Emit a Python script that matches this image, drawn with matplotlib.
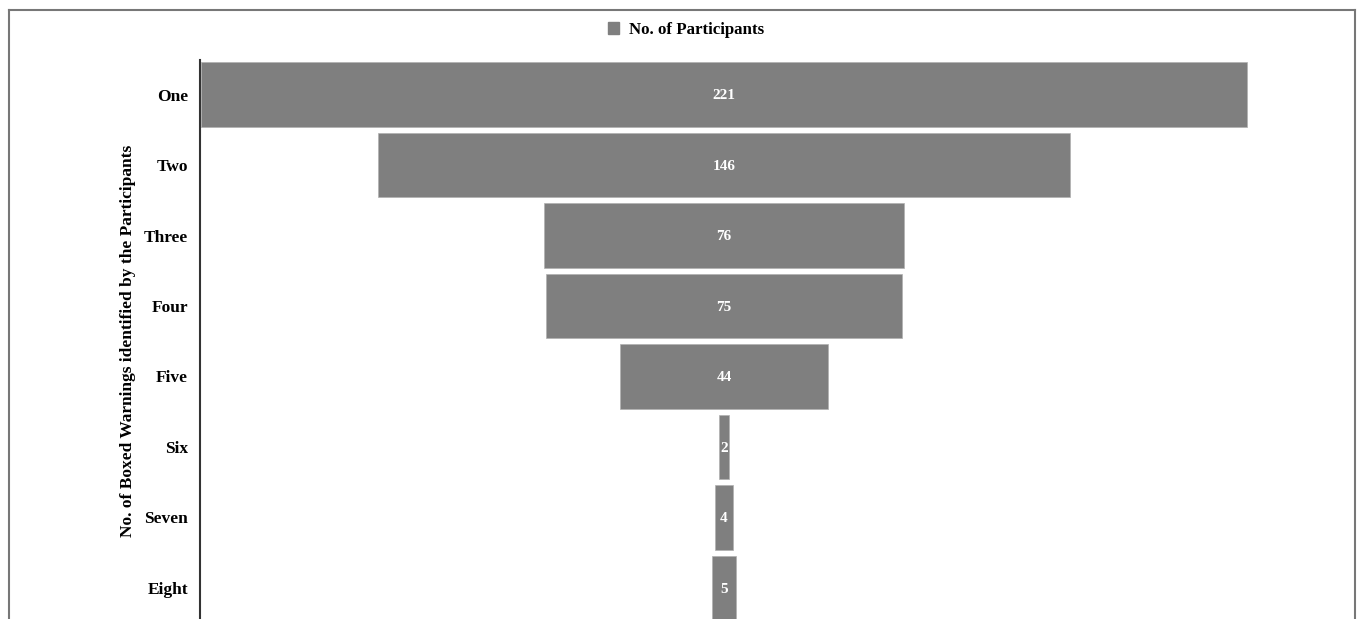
import matplotlib
matplotlib.use("Agg")
from matplotlib import pyplot as plt
from matplotlib.lines import Line2D
from matplotlib.patches import Patch

categories = ["One", "Two", "Three", "Four", "Five", "Six", "Seven", "Eight"]
participants = [221, 146, 76, 75, 44, 2, 4, 5]

W, H = 1357, 619
fig = plt.figure(figsize=(W / 100, H / 100), dpi=100)
plt.rcParams['font.family'] = ['Liberation Serif', 'DejaVu Serif']

# axes placed in pixel terms; bottom runs slightly past the figure edge (cropped look)
ax_l, ax_r, ax_t, ax_b = 200, 1248, 60, 622.5
ax = fig.add_axes([ax_l / W, 1 - ax_b / H, (ax_r - ax_l) / W, (ax_b - ax_t) / H])

ypos = list(range(len(categories)))
lefts = [-v / 2 for v in participants]
ax.barh(ypos, participants, left=lefts, height=0.92, color="#7f7f7f",
        edgecolor="#b0b0b0", linewidth=0.5, label="No. of Participants")
for y, v in zip(ypos, participants):
    ax.text(0, y + 0.02, str(v), ha="center", va="center", color="white",
            fontsize=11, fontweight="bold")

ax.set_xlim(-110.7, 110.7)
ax.set_ylim(len(categories) - 0.51, -0.49)
ax.set_yticks(ypos)
ax.set_yticklabels(categories, fontsize=12.5, fontweight="bold")
ax.tick_params(axis="y", length=0, pad=8.5)
ax.set_xticks([])
for s in ["top", "right", "bottom"]:
    ax.spines[s].set_visible(False)
ax.spines["left"].set_color("#333333")
ax.spines["left"].set_linewidth(1.5)

ax.set_ylabel("No. of Boxed Warnings identified by the Participants",
              fontsize=12.5, fontweight="bold", labelpad=6)

fig.legend(handles=[Patch(color="#7f7f7f", label="No. of Participants")],
           loc="center", bbox_to_anchor=(686 / W, 1 - 30 / H), frameon=False,
           prop={"size": 12.2, "weight": "bold"}, handlelength=0.65,
           handleheight=0.65, handletextpad=0.6)

# outer frame (bottom edge cropped)
fx0, fx1, fy0 = 8.5 / W, 1354.5 / W, 1 - 9.5 / H
frame_kw = dict(color="#777777", linewidth=1.5, transform=fig.transFigure)
fig.add_artist(Line2D([fx0, fx1], [fy0, fy0], **frame_kw))
fig.add_artist(Line2D([fx0, fx0], [0, fy0], **frame_kw))
fig.add_artist(Line2D([fx1, fx1], [0, fy0], **frame_kw))

fig.savefig("out.png", dpi=100)
